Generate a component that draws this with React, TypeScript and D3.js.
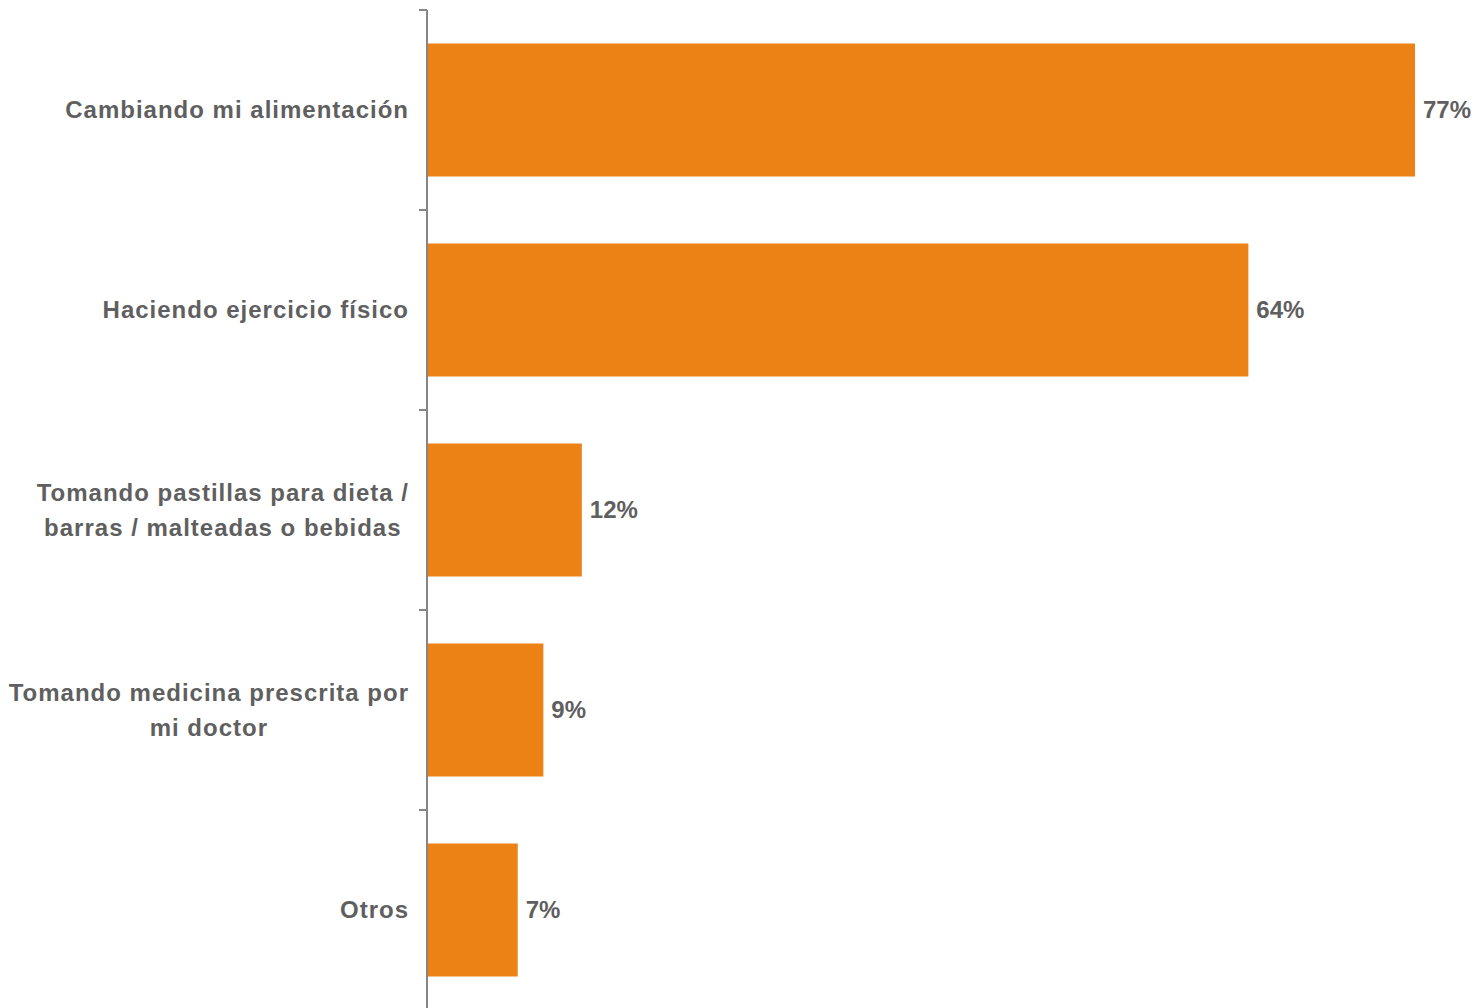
import React, { useEffect, useRef } from "react";
import * as d3 from "d3";

const categories: string[][] = [
  ["Cambiando mi alimentación"],
  ["Haciendo ejercicio físico"],
  ["Tomando pastillas para dieta /", "barras / malteadas o bebidas"],
  ["Tomando medicina prescrita por", "mi doctor"],
  ["Otros"],
];
const values: number[] = [77, 64, 12, 9, 7];
const valueLabels: string[] = ["77%", "64%", "12%", "9%", "7%"];

const W = 1475;
const H = 1008;
const axisX = 427;
const top = 10;
const bottom = 1010;
const barColor = "#EC8115";
const textColor = "#5F5F5F";
const axisColor = "#868686";
const font = "'Liberation Sans', Arial, sans-serif";

export default function App() {
  const ref = useRef<SVGSVGElement | null>(null);

  useEffect(() => {
    const svg = d3.select(ref.current);
    svg.selectAll("*").remove();

    const keys = categories.map((_, i) => String(i));
    const y = d3.scaleBand<string>().domain(keys).range([top, bottom]).paddingInner(0.335).paddingOuter(0.1675);
    const x = d3.scaleLinear().domain([0, 77]).range([axisX + 1, 1415]);

    // bars
    svg
      .selectAll("rect.bar")
      .data(values)
      .join("rect")
      .attr("class", "bar")
      .attr("x", x(0))
      .attr("y", (_, i) => y(String(i))!)
      .attr("width", (d) => x(d) - x(0))
      .attr("height", y.bandwidth())
      .attr("fill", barColor);

    // axis line and ticks
    const step = (bottom - top) / categories.length;
    svg
      .append("line")
      .attr("x1", axisX)
      .attr("x2", axisX)
      .attr("y1", top)
      .attr("y2", bottom)
      .attr("stroke", axisColor)
      .attr("stroke-width", 2);
    d3.range(categories.length).forEach((i) => {
      svg
        .append("line")
        .attr("x1", axisX - 8)
        .attr("x2", axisX)
        .attr("y1", top + i * step)
        .attr("y2", top + i * step)
        .attr("stroke", axisColor)
        .attr("stroke-width", 2);
    });

    // category labels
    const lineH = 35;
    categories.forEach((lines, i) => {
      const cy = y(String(i))! + y.bandwidth() / 2;
      const g = svg.append("g");
      const texts = lines.map((ln, j) =>
        g
          .append("text")
          .attr("y", cy + (j - (lines.length - 1) / 2) * lineH)
          .attr("dy", "0.35em")
          .attr("font-family", font)
          .attr("font-weight", "bold")
          .attr("font-size", 24)
          .attr("letter-spacing", 1)
          .attr("fill", textColor)
          .attr("text-anchor", "middle")
          .text(ln)
      );
      const widths = texts.map((t) => (t.node() as SVGTextElement).getComputedTextLength());
      const maxW = Math.max(...widths);
      const cx = 409 - maxW / 2;
      texts.forEach((t) => t.attr("x", cx));
    });

    // value labels
    svg
      .selectAll("text.val")
      .data(values)
      .join("text")
      .attr("class", "val")
      .attr("x", (d) => x(d) + 8)
      .attr("y", (_, i) => y(String(i))! + y.bandwidth() / 2)
      .attr("dy", "0.35em")
      .attr("font-family", font)
      .attr("font-weight", "bold")
      .attr("font-size", 24)
      .attr("fill", textColor)
      .text((_, i) => valueLabels[i]);
  }, []);

  return (
    <svg
      ref={ref}
      width={W}
      height={H}
      style={{ position: "absolute", left: 0, top: 0, background: "#fff" }}
    />
  );
}
